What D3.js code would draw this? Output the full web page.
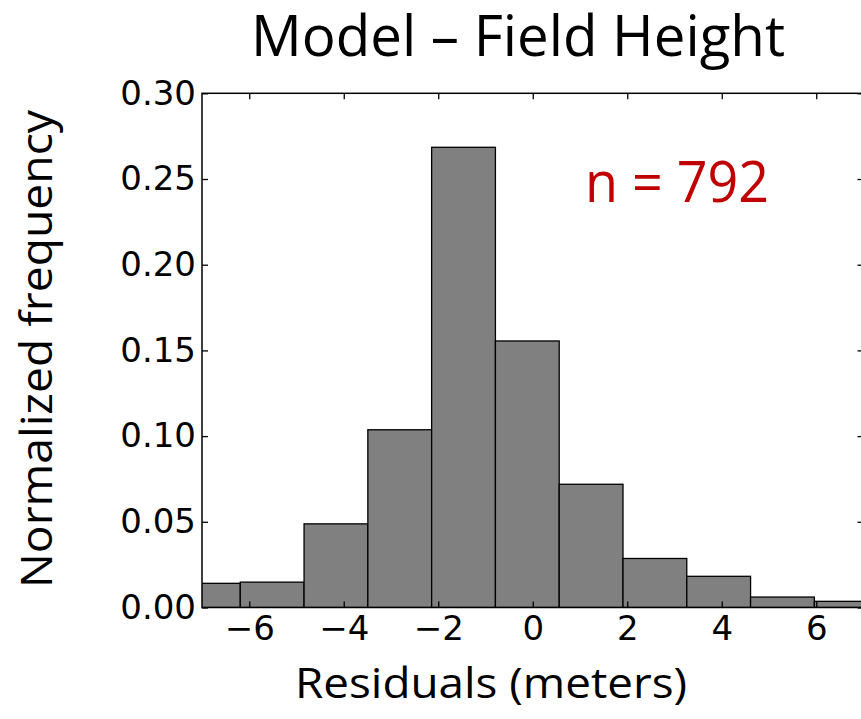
<!DOCTYPE html>
<html>
<head>
<meta charset="utf-8">
<script src="https://cdn.jsdelivr.net/npm/d3@7/dist/d3.min.js"></script>
<style>
	body { margin: 0; background: #fff; }
	.ticklabel text { font-family: "DejaVu Sans", sans-serif; font-size: 34px; fill: #000; }
	.tick line { stroke: #000; stroke-width: 1.3; }
</style>
</head>
<body>
<div id="chart"></div>
<script>

// Histogram bins (residuals in meters) and normalized frequency per bin
var binEdges = [-7.54, -6.19, -4.84, -3.49, -2.14, -0.79, 0.56, 1.91, 3.26, 4.61, 5.96, 7.31];
var density  = [0.0141, 0.0148, 0.0488, 0.1037, 0.2685, 0.1555, 0.0719, 0.0286, 0.0182, 0.0061, 0.0036];

var xTicks = [-6, -4, -2, 0, 2, 4, 6];
var yTicks = [0.00, 0.05, 0.10, 0.15, 0.20, 0.25, 0.30];

var titleText = "Model \u2013 Field Height";
var xLabel = "Residuals (meters)";
var yLabel = "Normalized frequency";
var countText = "n = 792";

var width = 861, height = 719;
// plot box (note: "top" is a reserved window property, so use a prefix)
var pLeft = 202, pRight = 863.5, pTop = 93.3, pBottom = 607.5;

var bins = [];
for (var i = 0; i < density.length; i++)
	bins.push({ x0: binEdges[i], x1: binEdges[i + 1], v: density[i] });

var x = d3.scaleLinear().domain([-7, 7]).range([pLeft, pRight]);
var y = d3.scaleLinear().domain([0, 0.30]).range([pBottom, pTop]);

var svg = d3.select("#chart")
	.append("svg")
	.attr("width", width)
	.attr("height", height);

svg.append("clipPath")
	.attr("id", "plotclip")
	.append("rect")
	.attr("x", pLeft)
	.attr("y", pTop)
	.attr("width", pRight - pLeft)
	.attr("height", pBottom - pTop);

// Bars
svg.append("g")
	.attr("clip-path", "url(#plotclip)")
	.selectAll("rect")
	.data(bins)
	.enter()
	.append("rect")
	.attr("x", function(d) { return x(d.x0); })
	.attr("y", function(d) { return y(d.v); })
	.attr("width", function(d) { return x(d.x1) - x(d.x0); })
	.attr("height", function(d) { return y(0) - y(d.v); })
	.style("fill", "#808080")
	.style("stroke", "#000")
	.style("stroke-width", 1.3);

var minus = function(d) { return d < 0 ? "\u2212" + Math.abs(d) : String(d); };

// Axes: ticks point inward on all four sides
var gx = svg.append("g")
	.attr("class", "ticklabel")
	.attr("transform", "translate(0," + pBottom + ")")
	.call(d3.axisBottom(x).tickValues(xTicks).tickFormat(minus)
		.tickSizeInner(-6).tickSizeOuter(0).tickPadding(8));

var gy = svg.append("g")
	.attr("class", "ticklabel")
	.attr("transform", "translate(" + pLeft + ",0)")
	.call(d3.axisLeft(y).tickValues(yTicks).tickFormat(d3.format(".2f"))
		.tickSizeInner(-6).tickSizeOuter(0).tickPadding(6));

var gt = svg.append("g")
	.attr("transform", "translate(0," + pTop + ")")
	.call(d3.axisTop(x).tickValues(xTicks).tickFormat("")
		.tickSizeInner(-6).tickSizeOuter(0));

var gr = svg.append("g")
	.attr("transform", "translate(" + pRight + ",0)")
	.call(d3.axisRight(y).tickValues(yTicks).tickFormat("")
		.tickSizeInner(-6).tickSizeOuter(0));

[gx, gy, gt, gr].forEach(function(g) { g.select(".domain").remove(); });
gx.selectAll("text").attr("dy", "0.71em");

// Frame
svg.append("rect")
	.attr("x", pLeft)
	.attr("y", pTop)
	.attr("width", pRight - pLeft)
	.attr("height", pBottom - pTop)
	.style("fill", "none")
	.style("stroke", "#000")
	.style("stroke-width", 1.5);

// Texts
var sans = "'Open Sans', 'Liberation Sans', sans-serif";

svg.append("text")
	.attr("x", 518)
	.attr("y", 56)
	.attr("text-anchor", "middle")
	.attr("textLength", 534)
	.attr("lengthAdjust", "spacingAndGlyphs")
	.style("font-family", sans)
	.style("font-size", "56px")
	.text(titleText);

svg.append("text")
	.attr("x", 491)
	.attr("y", 698)
	.attr("text-anchor", "middle")
	.attr("textLength", 392)
	.attr("lengthAdjust", "spacingAndGlyphs")
	.style("font-family", sans)
	.style("font-size", "42px")
	.text(xLabel);

svg.append("text")
	.attr("transform", "translate(52,349) rotate(-90)")
	.attr("text-anchor", "middle")
	.attr("textLength", 478)
	.attr("lengthAdjust", "spacingAndGlyphs")
	.style("font-family", sans)
	.style("font-size", "44px")
	.text(yLabel);

svg.append("text")
	.attr("x", 677)
	.attr("y", 201.5)
	.attr("text-anchor", "middle")
	.attr("textLength", 184)
	.attr("lengthAdjust", "spacingAndGlyphs")
	.style("font-family", sans)
	.style("font-size", "57px")
	.style("fill", "#c00000")
	.text(countText);

</script>
</body>
</html>
